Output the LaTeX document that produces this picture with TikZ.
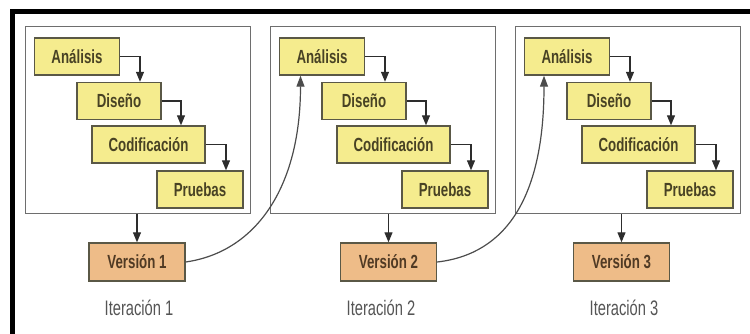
\documentclass[tikz,border=0pt]{standalone}
\usepackage{fontspec}
\setmainfont{Liberation Sans}[FakeStretch=0.7]
\usetikzlibrary{arrows.meta}
\definecolor{phase}{RGB}{245,236,142}
\definecolor{release}{RGB}{238,188,136}
\definecolor{framegray}{RGB}{110,110,110}
\definecolor{boxedge}{RGB}{90,88,70}
\definecolor{labeltext}{RGB}{72,66,36}
\definecolor{reltext}{RGB}{80,58,36}
\definecolor{captext}{RGB}{85,85,85}
\definecolor{arrowgray}{RGB}{45,45,45}
\begin{document}
\begin{tikzpicture}[x=1pt,y=-1pt,
  frame/.style={draw=framegray,line width=1.4pt,minimum width=225pt,minimum height=187pt,inner sep=0pt,anchor=north west},
  phasebox/.style={draw=boxedge,fill=phase,line width=1.4pt,minimum height=37pt,inner sep=0pt,
    font=\fontsize{19}{22}\selectfont\bfseries,text=labeltext},
  relbox/.style={draw=boxedge,fill=release,line width=1.4pt,minimum width=96pt,minimum height=38pt,inner sep=0pt,
    font=\fontsize{19}{22}\selectfont\bfseries,text=reltext},
  caption/.style={font=\fontsize{21}{24}\selectfont,text=captext,inner sep=0pt},
  flow/.style={draw=arrowgray,line width=1.2pt,-{Triangle[length=10pt,width=8pt]}},
  loopback/.style={draw=arrowgray!85,line width=1.2pt,-{Triangle[length=11pt,width=8pt]}},
]
\useasboundingbox[fill=white] (0,0) rectangle (750,334);
% heavy frame along the top and left
\draw[line width=5pt,line join=miter] (12.5,340) -- (12.5,12) -- (760,12);

% one waterfall per iteration
\foreach \i/\L in {1/25,2/270,3/515}{
  \node[frame] (f\i) at (\L,26) {};
  \node[phasebox,minimum width=85pt] (a\i) at ({\L+52},56.5) {Análisis};
  \node[phasebox,minimum width=84pt] (d\i) at ({\L+94},101) {Diseño};
  \node[phasebox,minimum width=113pt] (c\i) at ({\L+123.5},144.5) {Codificación};
  \node[phasebox,minimum width=86pt] (p\i) at ({\L+175},189.5) {Pruebas};
  \draw[flow] (a\i.east) -| ([xshift=21pt]d\i.north);
  \draw[flow] (d\i.east) -| ([xshift=32.5pt]c\i.north);
  \draw[flow] (c\i.east) -| ([xshift=26pt]p\i.north);
}

% releases
\node[relbox] (v1) at (137,262) {Versión 1};
\node[relbox] (v2) at (388.5,262) {Versión 2};
\node[relbox] (v3) at (621.5,262) {Versión 3};

\foreach \i in {1,2,3}{
  \draw[flow] (v\i.north |- f\i.south) -- (v\i.north);
}

% captions
\node[caption] (t1) at (139,308) {Iteración 1};
\node[caption] (t2) at (381,308) {Iteración 2};
\node[caption] (t3) at (624,308) {Iteración 3};

% each release feeds the analysis of the next iteration
\draw[loopback] (v1.east) .. controls +(70,-10) and +(0,112) .. ([xshift=-21.5pt]a2.south);
\draw[loopback] (v2.east) .. controls +(70,-8) and +(0,120) .. ([xshift=-23pt]a3.south);
\end{tikzpicture}
\end{document}
